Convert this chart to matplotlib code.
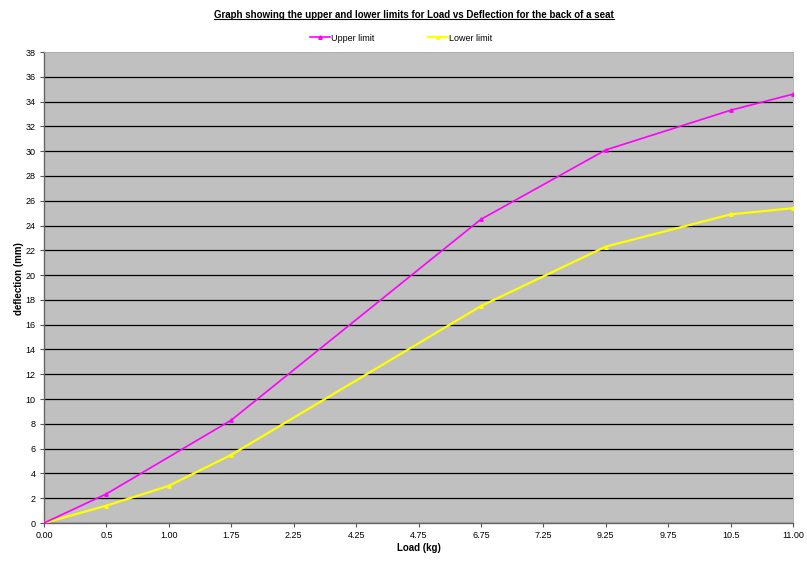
import numpy as np
import matplotlib
matplotlib.use("Agg")
import matplotlib.pyplot as plt
from matplotlib.lines import Line2D

# ---- data ----
load_labels = ["0.00", "0.5", "1.00", "1.75", "2.25", "4.25", "4.75",
               "6.75", "7.25", "9.25", "9.75", "10.5", "11.00"]
upper_limit = [0, 2.35, np.nan, 8.3, np.nan, np.nan, np.nan,
               24.5, np.nan, 30.1, np.nan, 33.3, 34.6]
lower_limit = [0, 1.4, 3.0, 5.5, np.nan, np.nan, np.nan,
               17.5, np.nan, 22.3, np.nan, 24.9, 25.4]
y_ticks = list(range(0, 39, 2))

plt.rcParams['font.family'] = ['Liberation Sans', 'DejaVu Sans']

fig = plt.figure(figsize=(8.07, 5.61), dpi=100)
fig.patch.set_facecolor("white")
ax = fig.add_axes([0.0545, 0.0677, 0.9282, 0.8396])
ax.set_facecolor("#C0C0C0")

x = np.arange(len(load_labels))
u = np.array(upper_limit, dtype=float)
l = np.array(lower_limit, dtype=float)
mu = ~np.isnan(u)
ml = ~np.isnan(l)

ax.plot(x[ml], l[ml], color="#FFFF00", lw=1.6, marker="^", ms=2.5,
        mec="#FFFF00", mfc="#FFFF00", label="Lower limit", zorder=3)
ax.plot(x[mu], u[mu], color="#FF00FF", lw=1.2, marker="^", ms=2.5,
        mec="#FF00FF", mfc="#FF00FF", label="Upper limit", zorder=4)

ax.set_xlim(0, len(load_labels) - 1)
ax.set_ylim(0, 38)
ax.set_xticks(x)
ax.set_xticklabels(load_labels, fontsize=6.5)
ax.set_yticks(y_ticks)
ax.set_yticklabels([str(t) for t in y_ticks], fontsize=6.5)
ax.tick_params(axis="both", direction="out", length=3, width=0.8,
               color="#555555", pad=3)

ax.yaxis.grid(True, color="black", lw=0.9)
ax.set_axisbelow(True)
for s in ["top", "right"]:
    ax.spines[s].set_color("#AAAAAA")
    ax.spines[s].set_linewidth(0.6)
for s in ["left", "bottom"]:
    ax.spines[s].set_color("#666666")
    ax.spines[s].set_linewidth(1.0)

ax.set_xlabel("Load (kg)", fontsize=7, fontweight="bold", labelpad=2)
ax.set_ylabel("deflection (mm)", fontsize=7, fontweight="bold")
ax.yaxis.set_label_coords(-0.027, 0.52)

handles, labels = ax.get_legend_handles_labels()
leg = fig.legend(handles[::-1], labels[::-1], loc="center",
                 bbox_to_anchor=(0.497, 0.932), ncol=2, frameon=False,
                 fontsize=6.5, handlelength=2.2, columnspacing=6,
                 handletextpad=0.1)

title = fig.text(0.513, 0.974, "Graph showing the upper and lower limits for Load vs Deflection for the back of a seat",
                 ha="center", va="center", fontsize=7, fontweight="bold")

fig.canvas.draw()
gl = ax.yaxis.get_gridlines()
gl[-1].set_visible(False)
bb = title.get_window_extent().transformed(fig.transFigure.inverted())
fig.add_artist(Line2D([bb.x0, bb.x1], [bb.y0 + 0.001, bb.y0 + 0.001],
                      transform=fig.transFigure, color="black", lw=0.8))

fig.savefig("out.png", dpi=100, facecolor="white")
